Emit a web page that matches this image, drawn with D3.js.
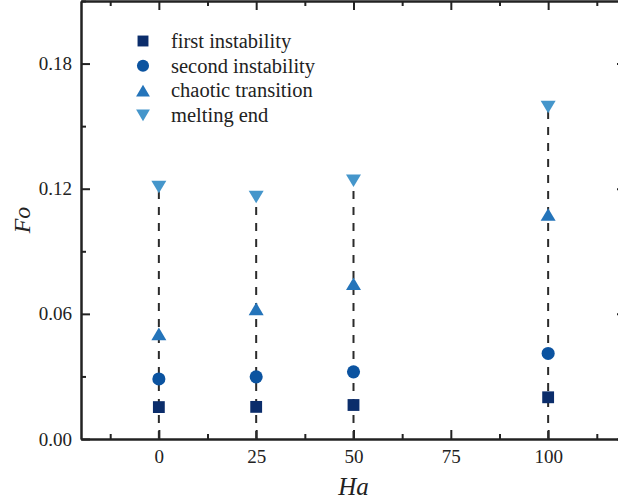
<!DOCTYPE html>
<html>
<head>
<meta charset="utf-8">
<script src="https://cdn.jsdelivr.net/npm/d3@7"></script>
<style>
  html, body { margin: 0; padding: 0; background: #fff; }
  svg { display: block; }
</style>
</head>
<body>
<svg id="chart" width="618" height="501"></svg>
<script>
// Hartmann number values at which each regime was recorded
const haValues = [0, 25, 50, 100];

// Fourier number at each event
const firstInstability  = [0.0153, 0.0154, 0.0163, 0.0200];
const secondInstability = [0.0288, 0.0298, 0.0322, 0.0410];
const chaoticTransition = [0.0504, 0.0624, 0.0744, 0.1076];
const meltingEnd        = [0.1208, 0.1160, 0.1238, 0.1592];

const seriesNames = ["first instability", "second instability", "chaotic transition", "melting end"];

const xTicks = [0, 25, 50, 75, 100];
const xMinorTicks = [-12.5, 12.5, 37.5, 62.5, 87.5, 112.5];
const yTicks = [0.00, 0.06, 0.12, 0.18];
const yMinorTicks = [0.03, 0.09, 0.15, 0.21];

const serif = "Liberation Serif";
const svg = d3.select("#chart");
const plotLeft = 81, plotRight = 626, plotTop = 1, plotBottom = 439;

const x = d3.scaleLinear().domain([-20, 120]).range([plotLeft, plotRight]);
const y = d3.scaleLinear().domain([0, 0.21]).range([plotBottom, plotTop]);

// Triangles centred on their bounding box
const triUp = {
  draw(ctx, size) {
    const w = Math.sqrt(size) * 1.2, h = w * 0.84;
    ctx.moveTo(0, -h / 2); ctx.lineTo(w / 2, h / 2); ctx.lineTo(-w / 2, h / 2); ctx.closePath();
  }
};
const triDown = {
  draw(ctx, size) {
    const w = Math.sqrt(size) * 1.2, h = w * 0.84;
    ctx.moveTo(0, h / 2); ctx.lineTo(w / 2, -h / 2); ctx.lineTo(-w / 2, -h / 2); ctx.closePath();
  }
};

const series = [
  { name: seriesNames[0], values: firstInstability,  type: d3.symbolSquare, size: 140, color: "#0b2d6b" },
  { name: seriesNames[1], values: secondInstability, type: d3.symbolCircle, size: 135, color: "#0b53a0" },
  { name: seriesNames[2], values: chaoticTransition, type: triUp,           size: 156, color: "#2474ba" },
  { name: seriesNames[3], values: meltingEnd,        type: triDown,         size: 156, color: "#4596cb" }
];

const axisColor = "#222";
function styleAxis(g) {
  g.attr("font-family", null).attr("font-size", null);
  g.selectAll("path.domain").attr("stroke", axisColor).attr("stroke-width", 2);
  g.selectAll(".tick line").attr("stroke", axisColor).attr("stroke-width", 2);
  g.selectAll(".tick text")
    .style("font-family", serif).style("font-size", "19px").attr("fill", axisColor);
}

// Major and minor ticks on all four sides, pointing inward
svg.append("g").attr("transform", `translate(0,${plotBottom})`)
  .call(d3.axisBottom(x).tickValues(xTicks).tickSize(-9).tickSizeOuter(0).tickPadding(11).tickFormat(d3.format("d")))
  .call(styleAxis);
svg.append("g").attr("transform", `translate(0,${plotBottom})`)
  .call(d3.axisBottom(x).tickValues(xMinorTicks).tickSize(-5).tickSizeOuter(0).tickFormat(""))
  .call(styleAxis);
svg.append("g").attr("transform", `translate(0,${plotTop})`)
  .call(d3.axisTop(x).tickValues(xTicks).tickSize(-9).tickSizeOuter(0).tickFormat(""))
  .call(styleAxis);
svg.append("g").attr("transform", `translate(0,${plotTop})`)
  .call(d3.axisTop(x).tickValues(xMinorTicks).tickSize(-5).tickSizeOuter(0).tickFormat(""))
  .call(styleAxis);

svg.append("g").attr("transform", `translate(${plotLeft},0)`)
  .call(d3.axisLeft(y).tickValues(yTicks).tickSize(-9).tickSizeOuter(0).tickPadding(9).tickFormat(d3.format(".2f")))
  .call(styleAxis);
svg.append("g").attr("transform", `translate(${plotLeft},0)`)
  .call(d3.axisLeft(y).tickValues(yMinorTicks).tickSize(-5).tickSizeOuter(0).tickFormat(""))
  .call(styleAxis);
svg.append("g").attr("transform", `translate(${plotRight},0)`)
  .call(d3.axisRight(y).tickValues(yTicks).tickSize(-9).tickSizeOuter(0).tickFormat(""))
  .call(styleAxis);
svg.append("g").attr("transform", `translate(${plotRight},0)`)
  .call(d3.axisRight(y).tickValues(yMinorTicks).tickSize(-5).tickSizeOuter(0).tickFormat(""))
  .call(styleAxis);

// Dashed guide from the axis up to the melting end at each Ha
svg.append("g").selectAll("line")
  .data(haValues)
  .join("line")
  .attr("x1", d => x(d)).attr("x2", d => x(d))
  .attr("y1", y(0)).attr("y2", (d, i) => y(meltingEnd[i]))
  .attr("stroke", "#2b2b2b").attr("stroke-width", 2)
  .attr("stroke-dasharray", "8,8");

// Markers
series.forEach(s => {
  svg.append("g").selectAll("path")
    .data(haValues.map((h, i) => ({ h, v: s.values[i] })))
    .join("path")
    .attr("transform", d => `translate(${x(d.h)},${y(d.v)})`)
    .attr("d", d3.symbol(s.type, s.size)())
    .attr("fill", s.color);
});

// Legend
const legend = svg.append("g").attr("transform", "translate(143,41)");
series.forEach((s, i) => {
  const row = legend.append("g").attr("transform", `translate(0,${i * 24.8})`);
  row.append("path").attr("d", d3.symbol(s.type, s.size * 0.85)()).attr("fill", s.color);
  row.append("text").attr("x", 28).attr("y", 0).attr("dy", "0.33em")
    .style("font-family", serif).style("font-size", "20.5px").attr("fill", axisColor)
    .text(s.name);
});

// Axis titles
svg.append("text")
  .attr("x", x(50)).attr("y", 495)
  .attr("text-anchor", "middle")
  .style("font-family", serif).style("font-style", "italic").style("font-size", "25px")
  .attr("fill", axisColor)
  .text("Ha");

svg.append("text")
  .attr("transform", `translate(30,${(plotTop + plotBottom) / 2}) rotate(-90)`)
  .attr("text-anchor", "middle")
  .style("font-family", serif).style("font-style", "italic").style("font-size", "24px")
  .attr("fill", axisColor)
  .text("Fo");
</script>
</body>
</html>
